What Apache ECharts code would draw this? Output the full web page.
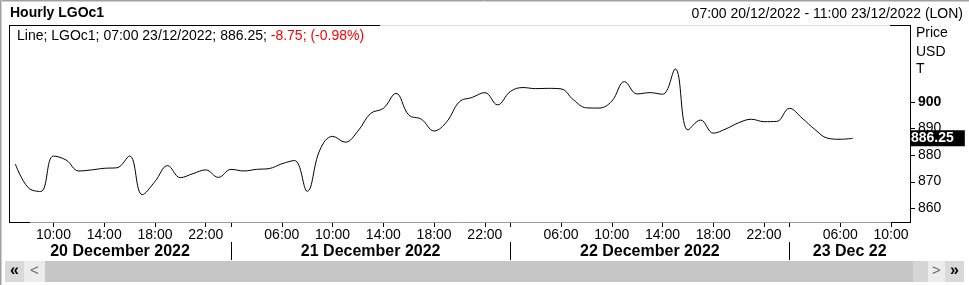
<!DOCTYPE html>
<html>
<head>
<meta charset="utf-8">
<script src="https://cdn.jsdelivr.net/npm/echarts@6/dist/echarts.min.js"></script>
<style>
html,body{margin:0;padding:0;background:#fff;}
#chart{width:969px;height:285px;}
</style>
</head>
<body>
<div id="chart"></div>
<script>
// ---- data ----
const categories = [
  '20 07:00','20 08:00','20 09:00','20 10:00','20 11:00','20 12:00','20 13:00','20 14:00','20 15:00','20 16:00','20 17:00','20 18:00','20 19:00','20 20:00','20 21:00','20 22:00','20 23:00',
  '21 02:00','21 03:00','21 04:00','21 05:00','21 06:00','21 07:00','21 08:00','21 09:00','21 10:00','21 11:00','21 12:00','21 13:00','21 14:00','21 15:00','21 16:00','21 17:00','21 18:00','21 19:00','21 20:00','21 21:00','21 22:00','21 23:00',
  '22 02:00','22 03:00','22 04:00','22 05:00','22 06:00','22 07:00','22 08:00','22 09:00','22 10:00','22 11:00','22 12:00','22 13:00','22 14:00','22 15:00','22 16:00','22 17:00','22 18:00','22 19:00','22 20:00','22 21:00','22 22:00','22 23:00',
  '23 02:00','23 03:00','23 04:00','23 05:00','23 06:00','23 07:00','23 08:00','23 09:00','23 10:00','23 11:00'
];
const values = [
  876.6, 867.8, 866.3, 879.6, 878.1, 874.0, 874.4, 875.0, 875.2, 879.6, 865.1, 870.0, 876.0, 871.5, 873.0, 874.4, 871.6,
  874.6, 874.0, 874.6, 874.9, 876.7, 877.9, 866.4, 881.9, 887.0, 884.8, 889.0, 895.6, 897.5, 903.1, 895.0, 893.4, 889.0, 892.5, 900.0, 901.6, 903.4, 898.8,
  903.8, 905.3, 904.9, 905.0, 904.8, 900.6, 897.7, 897.6, 900.2, 907.5, 902.9, 903.4, 902.8, 912.3, 889.4, 893.1, 888.2, 889.8, 892.1, 893.4, 892.5, 892.6,
  897.5, 893.8, 889.6, 886.3, 885.9, 886.25
];
const labelHours = ['06:00','10:00','14:00','18:00','22:00'];
const dayStartHour = '02:00';
const dayNames = ['20 December 2022','21 December 2022','22 December 2022','23 Dec 22'];
const yTicks = [860, 870, 880, 890, 900];
const yBold = 900;
const yMin = 854.85, yMax = 928.4;
const lastValue = 886.25;
const titleText = 'Hourly LGOc1';
const rangeText = '07:00 20/12/2022 - 11:00 23/12/2022 (LON)';
const legendMain = 'Line; LGOc1; 07:00 23/12/2022; 886.25; ';
const legendChange = '-8.75; (-0.98%)';
const unitLines = ['Price', 'USD', 'T'];

// ---- derived ----
const hourOf = v => v.split(' ')[1];
const dayStarts = [];
categories.forEach((c, i) => { if (hourOf(c) === dayStartHour) dayStarts.push(i); });
const bounds = [-0.5].concat(dayStarts, [categories.length - 0.5]);
const dayCenters = dayNames.map((d, i) => (bounds[i] + bounds[i + 1]) / 2);

const FONT = '"Liberation Sans", Arial, sans-serif';
const chart = echarts.init(document.getElementById('chart'), null, {renderer: 'canvas'});

function line(x1, y1, x2, y2, color) {
  return {type: 'line', silent: true, z: 10, shape: {x1, y1, x2, y2}, style: {stroke: color, lineWidth: 1}};
}
function txt(text, x, y, opts) {
  return {type: 'text', silent: true, z: 10, x, y, style: Object.assign({
    text, fontFamily: FONT, fontSize: 14, fill: '#000', align: 'left', verticalAlign: 'middle'
  }, opts || {})};
}
function rect(x, y, w, h, fill) {
  return {type: 'rect', silent: true, z: 5, shape: {x, y, width: w, height: h}, style: {fill}};
}

const graphics = [
  // outer border
  line(0, 0.5, 969, 0.5, '#a0a0a0'), line(0, 1.5, 969, 1.5, '#d0d0d0'),
  line(0.5, 0, 0.5, 285, '#a0a0a0'), line(1.5, 0, 1.5, 285, '#d0d0d0'),
  // plot frame
  line(9.5, 25.5, 9.5, 222.5, '#000'),
  line(910.5, 25.5, 910.5, 222.5, '#000'),
  line(9, 25.5, 380, 25.5, '#000'),
  line(380, 25.5, 890, 25.5, '#dcdcdc'),
  line(890, 25.5, 911, 25.5, '#000'),
  line(9, 222.5, 30, 222.5, '#000'),
  line(30, 222.5, 891, 222.5, '#9a9a9a'),
  line(891, 222.5, 911, 222.5, '#000'),
  // header texts
  txt(titleText, 10, 13.5, {fontWeight: 'bold'}),
  txt(rangeText, 963, 14, {align: 'right'}),
  txt('{a|' + legendMain + '}{r|' + legendChange + '}', 17, 36, {
    rich: {a: {fontFamily: FONT, fontSize: 14, fill: '#000'}, r: {fontFamily: FONT, fontSize: 14, fill: '#ff0000'}}
  }),
  txt(unitLines[0], 916, 33.5),
  txt(unitLines[1], 916, 52),
  txt(unitLines[2], 916, 69.5),
  // scrollbar
  rect(45, 261, 868, 21, '#c6c6c6'),
  rect(913, 261, 15, 21, '#d6d6d6'),
  rect(5, 261, 19, 21, '#d9d9d9'),
  rect(24, 261, 21, 21, '#ececec'),
  rect(928, 261, 17, 21, '#ececec'),
  rect(945, 261, 19, 21, '#d9d9d9'),
  txt('«', 14.5, 271, {align: 'center', fontWeight: 'bold', fontSize: 16}),
  txt('<', 34.5, 271, {align: 'center', fill: '#666', fontSize: 15}),
  txt('>', 936.5, 271, {align: 'center', fill: '#666', fontSize: 15}),
  txt('»', 954.5, 271, {align: 'center', fontWeight: 'bold', fontSize: 16})
];

const option = {
  animation: false,
  backgroundColor: '#fff',
  textStyle: {fontFamily: FONT},
  grid: {left: 9, right: 59, top: 26, bottom: 63, containLabel: false},
  xAxis: [
    {
      type: 'category',
      data: categories,
      boundaryGap: true,
      axisLine: {show: false},
      axisTick: {
        show: true, alignWithLabel: true, length: 5,
        interval: (i, v) => labelHours.includes(hourOf(v)) || hourOf(v) === dayStartHour,
        lineStyle: {color: '#000'}
      },
      axisLabel: {
        interval: (i, v) => labelHours.includes(hourOf(v)),
        formatter: v => hourOf(v),
        color: '#000', fontSize: 14, fontFamily: FONT, margin: 6
      },
      splitLine: {show: false}
    },
    {
      type: 'value',
      min: -0.5,
      max: categories.length - 0.5,
      position: 'bottom',
      offset: 20,
      axisLine: {show: false},
      axisTick: {show: true, customValues: dayStarts, length: 18, lineStyle: {color: '#000'}},
      axisLabel: {
        customValues: dayCenters,
        formatter: v => { const k = dayCenters.indexOf(v); return k >= 0 ? dayNames[k] : ''; },
        color: '#000', fontSize: 16, fontWeight: 'bold', fontFamily: FONT, margin: 2
      },
      splitLine: {show: false}
    }
  ],
  yAxis: {
    type: 'value',
    position: 'right',
    min: yMin,
    max: yMax,
    axisLine: {show: false},
    axisTick: {show: false},
    axisLabel: {
      customValues: yTicks,
      margin: 8,
      color: '#000', fontSize: 14, fontFamily: FONT,
      formatter: v => v === yBold ? '{b|' + v + '}' : String(v),
      rich: {b: {fontWeight: 'bold', fontSize: 14, color: '#000', fontFamily: FONT}}
    },
    splitLine: {show: false}
  },
  series: [{
    type: 'line',
    xAxisIndex: 0,
    data: values,
    smooth: 0.4,
    symbol: 'none',
    lineStyle: {color: '#000', width: 1},
    z: 3,
    markLine: {
      silent: true,
      symbol: 'none',
      z: 20,
      lineStyle: {color: 'rgba(0,0,0,0)', width: 0},
      label: {
        show: true, position: 'end', distance: 0,
        formatter: lastValue.toFixed(2),
        backgroundColor: '#000', color: '#fff', fontWeight: 'bold', fontSize: 14, fontFamily: FONT,
        padding: [1, 11, 1, 1], lineHeight: 14
      },
      data: [{yAxis: lastValue}]
    }
  }],
  graphic: graphics
};
chart.setOption(option);

// y-axis tick marks placed through the axis scale
const tickGraphics = yTicks.map(v => {
  const py = Math.round(chart.convertToPixel({yAxisIndex: 0}, v)) + 0.5;
  return line(911, py, 915, py, '#000');
});
chart.setOption({graphic: graphics.concat(tickGraphics)});
</script>
</body>
</html>
